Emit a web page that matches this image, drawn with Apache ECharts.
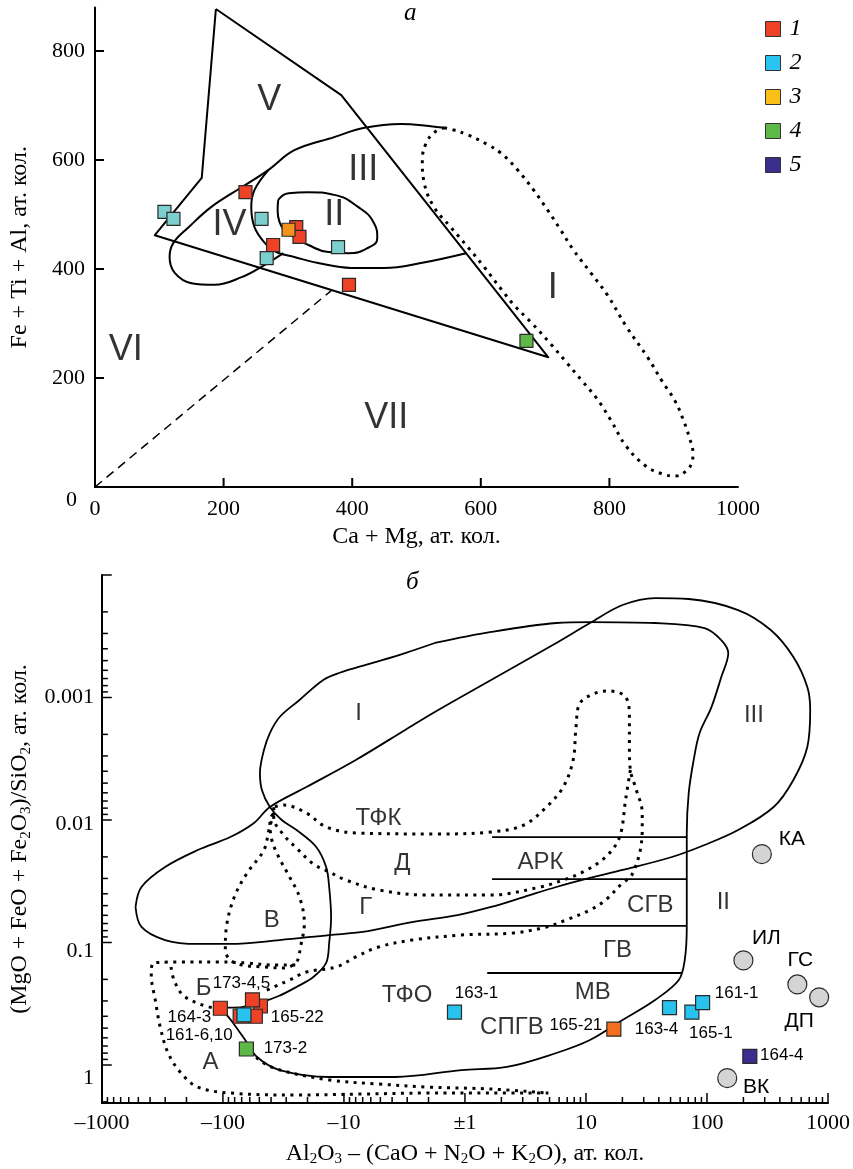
<!DOCTYPE html>
<html><head><meta charset="utf-8">
<script src="https://cdn.jsdelivr.net/npm/echarts@6/dist/echarts.min.js"></script>
<style>html,body{margin:0;padding:0;background:#fff}#c{width:853px;height:1169px}</style>
</head><body><div id="c"></div>
<script>
// ================= Chart а : Ca+Mg vs Fe+Ti+Al (at. quantities) =================
const aRed    = [[234,541],[277,444],[313,477],[318,459],[395,371]];
const aCyan   = [[108,505],[122,492],[259,492],[267,420],[378,440]];
const aOrange = [[301,472]];
const aGreen  = [[671,268]];
// field boundaries, chart а (data units)
const aOutline  = [[188,877],[383,719],[705,238],[93,462],[166,567],[188,877]];
const aDashed   = [[0,0],[367,360]];
const aCurveA   = [[293,429],[259,404],[228,385],[186,371],[150,374],[124,393],[116,422],[122,448],[146,477],[181,514],[228,550],[270,582],[310,618],[372,642],[419,659],[476,666],[522,662],[543,659]];
const aCurveB   = [[270,582],[248,545],[243,514],[248,477],[264,448],[282,431],[310,422],[347,411],[398,402],[450,402],[507,411],[577,429]];
const aEllII    = [[285,527],[301,539],[332,541],[372,536],[409,514],[434,484],[439,457],[425,439],[394,429],[363,431],[332,444],[305,462],[287,486],[284,508],[285,527]];
const aEllI     = [[543,659],[558,655],[580,646],[611,628],[631,613],[657,582],[682,545],[704,508],[724,472],[744,435],[771,393],[797,352],[826,295],[860,237],[882,194],[902,158],[915,123],[924,92],[930,62],[929,48],[919,29],[902,20],[882,24],[856,39],[826,75],[802,123],[780,163],[758,194],[733,229],[709,262],[679,301],[653,332],[633,361],[605,404],[580,440],[553,477],[527,514],[512,558],[509,600],[515,631],[527,650],[543,659]];
const aZoneLabels = [['V',271,710],['III',417,582],['II',372,499],['IV',209,481],['I',712,365],['VI',48,251],['VII',453,127]];
const aXTicks = [0,200,400,600,800,1000];
const aYTicks = [0,200,400,600,800];

// ================= Chart б : Al2O3-(CaO+Na2O+K2O) vs (MgO+FeO+Fe2O3)/SiO2 =================
// samples: [name, x (at. qty), y (ratio)]
const bRed    = [['164-3',-105,0.344],['173-5',-49,0.33],['173-4,5',-57,0.294],['161-6,10',-72,0.40],['165-22',-54,0.40]];
const bCyan   = [['',-67,0.39],['163-1',-1.22,0.37],['163-4',49,0.34],['165-1',75,0.37],['161-1',92,0.31]];
const bOrange = [['165-21',17,0.51]];
const bGreen  = [['173-2',-64,0.74]];
const bPurple = [['164-4',226,0.85]];
const bRef    = [['КА',284,0.019],['ИЛ',200,0.14],['ГС',558,0.22],['ДП',845,0.28],['ВК',147,1.28]];
const bXTickLabels = ['–1000','–100','–10','±1','10','100','1000'];
const bYTickLabels = {'-3':'0.001','-2':'0.01','-1':'0.1','0':'1'};
// field boundaries, chart б, in decade coordinates [signed log10|x|, log10 y]
const bCurveQ = [[-0.249,-3.445],[-0.494,-3.363],[-0.763,-3.282],[-1.041,-3.200],[-1.171,-3.143],[-1.367,-2.980],[-1.531,-2.841],[-1.612,-2.710],[-1.661,-2.571],[-1.694,-2.384],[-1.678,-2.245],[-1.612,-2.106],[-1.514,-2.000],[-1.392,-1.918],[-1.229,-1.780],[-1.147,-1.616],[-1.122,-1.453],[-1.106,-1.208],[-1.122,-0.996],[-1.147,-0.833],[-1.253,-0.718],[-1.392,-0.637],[-1.539,-0.563],[-1.678,-0.514],[-1.841,-0.473],[-2.012,-0.465],[-1.922,-0.351],[-1.816,-0.204],[-1.718,-0.065],[-1.531,0.041],[-1.122,0.098],[-0.576,0.098],[-0.029,0.041],[0.347,0.016],[0.755,-0.098],[1.033,-0.204],[1.302,-0.367],[1.571,-0.531],[1.767,-0.694],[1.816,-0.857],[1.833,-1.127],[1.833,-1.510],[1.833,-1.894],[1.849,-2.220],[1.890,-2.490],[1.939,-2.710],[2.037,-2.922],[2.118,-3.167],[2.176,-3.363],[2.118,-3.469],[1.980,-3.567],[1.571,-3.608],[1.033,-3.616],[0.755,-3.608],[0.216,-3.535],[-0.249,-3.445]];
const bCurveP = [[-2.722,-1.290],[-2.673,-1.453],[-2.478,-1.616],[-2.208,-1.755],[-1.939,-1.861],[-1.743,-1.976],[-1.612,-2.106],[-1.310,-2.269],[-0.902,-2.490],[-0.494,-2.735],[-0.249,-2.882],[0.216,-3.143],[0.755,-3.445],[1.033,-3.608],[1.302,-3.755],[1.571,-3.812],[1.849,-3.804],[2.257,-3.714],[2.527,-3.551],[2.714,-3.331],[2.829,-3.086],[2.853,-2.898],[2.829,-2.596],[2.714,-2.327],[2.551,-2.106],[2.257,-1.918],[1.980,-1.796],[1.710,-1.698],[1.302,-1.592],[1.033,-1.527],[0.755,-1.453],[0.486,-1.371],[0.216,-1.290],[-0.061,-1.224],[-0.437,-1.167],[-0.845,-1.086],[-1.122,-1.061],[-1.531,-1.020],[-1.939,-0.988],[-2.208,-0.988],[-2.478,-1.020],[-2.673,-1.127],[-2.722,-1.290]];
const bHLines = [[[0.224,-1.861],[1.833,-1.861]],[[0.224,-1.518],[1.833,-1.518]],[[0.184,-1.135],[1.833,-1.135]],[[0.184,-0.751],[1.792,-0.751]]];
const bDotMain = [[-1.637,-0.612],[-1.580,-0.637],[-1.449,-0.694],[-1.310,-0.759],[-1.065,-0.800],[-0.902,-0.882],[-0.714,-0.963],[-0.437,-1.020],[-0.029,-1.061],[0.404,-1.078],[0.673,-1.127],[0.837,-1.184],[1.033,-1.265],[1.163,-1.347],[1.302,-1.486],[1.367,-1.535],[1.408,-1.616],[1.449,-1.755],[1.465,-1.918],[1.465,-2.057],[1.408,-2.269],[1.367,-2.408],[1.359,-2.596],[1.359,-2.841],[1.327,-3.004],[1.196,-3.053],[1.082,-3.037],[0.951,-2.955],[0.918,-2.759],[0.894,-2.490],[0.812,-2.269],[0.673,-2.106],[0.486,-1.959],[0.216,-1.902],[-0.249,-1.886],[-0.902,-1.894],[-1.147,-1.943],[-1.310,-2.057],[-1.498,-2.122],[-1.580,-2.106]];
const bDotD = [[1.367,-2.408],[1.327,-2.163],[1.278,-1.861],[1.163,-1.698],[0.976,-1.576],[0.812,-1.510],[0.624,-1.453],[0.216,-1.388],[-0.331,-1.388],[-0.714,-1.429],[-0.984,-1.510],[-1.122,-1.576],[-1.253,-1.641],[-1.392,-1.771],[-1.498,-1.878],[-1.580,-2.016],[-1.580,-2.106]];
const bDotV = [[-1.580,-2.057],[-1.620,-1.918],[-1.661,-1.755],[-1.800,-1.567],[-1.906,-1.371],[-1.971,-1.127],[-1.980,-0.939],[-1.939,-0.857],[-1.841,-0.816],[-1.661,-0.800],[-1.498,-0.792],[-1.392,-0.841],[-1.359,-0.963],[-1.327,-1.159],[-1.367,-1.371],[-1.449,-1.535],[-1.539,-1.698],[-1.596,-1.837],[-1.612,-2.000],[-1.580,-2.057]];
const bDotAOuter = [[0.690,0.229],[0.216,0.229],[-0.306,0.229],[-0.845,0.237],[-1.392,0.245],[-1.939,0.229],[-2.208,0.180],[-2.347,0.065],[-2.453,-0.098],[-2.518,-0.310],[-2.559,-0.531],[-2.592,-0.735],[-2.576,-0.833],[-2.290,-0.841],[-2.045,-0.841],[-1.800,-0.833],[-1.596,-0.816],[-1.392,-0.816]];
const bDotAUpper = [[-1.800,-0.180],[-1.718,-0.057],[-1.555,0.033],[-1.122,0.122],[-0.714,0.155],[-0.306,0.180],[0.216,0.196],[0.690,0.229]];
const bDotB = [[-2.429,-0.800],[-2.404,-0.694],[-2.331,-0.571],[-2.192,-0.498],[-2.045,-0.457]];
const bZoneLabels = [['I',-0.878,-2.873],['III',2.388,-2.857],['ТФК',-0.714,-2.016],['Д',-0.518,-1.649],['АРК',0.624,-1.657],['Г',-0.820,-1.290],['В',-1.596,-1.184],['СГВ',1.531,-1.306],['II',2.135,-1.331],['ГВ',1.261,-0.939],['Б',-2.159,-0.629],['ТФО',-0.478,-0.571],['МВ',1.057,-0.596],['СПГВ',0.388,-0.310],['А',-2.102,-0.024]];

// ---------------- styling ----------------
const SERIF = '"Liberation Serif", "Times New Roman", serif';
const SANS = '"Liberation Sans", Arial, sans-serif';
const INK = '#000000';
// label offsets (label centre relative to marker centre), chart б
const bLabelOffset = {'164-3':[-31,9],'173-4,5':[-11,-17],'161-6,10':[-41,19],'165-22':[42,1],'173-2':[39,-1],'163-1':[22,-19],'165-21':[-38,-4],'163-4':[-13,22],'165-1':[19,21],'161-1':[34,-9],'164-4':[32,-1],'КА':[30,-15],'ИЛ':[23,-22],'ГС':[3,-24],'ДП':[-20,24],'ВК':[29,9]};
// downward nudge (px) of the y tick labels of chart б, as printed in the original
const bYLabelNudge = {'-3':0,'-2':8,'-1':18,'0':26};

const symlog = v => (Math.abs(v) <= 1 ? 0 : Math.sign(v) * Math.log10(Math.abs(v)));
const toB = (x, y) => [symlog(x), Math.log10(y)];

const A_XMAX = 1000, A_YMAX = 880, A_PX_X = 0.645, A_PX_Y = 0.545;   // px per unit (grid size / span)
const B_XMIN = -3, B_XMAX = 3, B_YMIN = -4, B_YMAX = 0.31;
const B_PX_PER_DECADE = 122.5;

function lineS(grid, data, opt) {
  opt = opt || {};
  return {
    type: 'line', xAxisIndex: grid, yAxisIndex: grid, data: data,
    symbol: 'none', showSymbol: false, silent: true, z: opt.z || 2,
    smooth: opt.smooth || false, clip: false,
    lineStyle: Object.assign({color: INK, width: 1.8, cap: 'butt', join: 'round'}, opt.style || {}),
    animation: false
  };
}
const DOTS = {type: [3, 5.5], width: 3, cap: 'butt'};

function pointS(grid, name, items, color, size, symbol, useLabels) {
  return {
    type: 'scatter', name: name, xAxisIndex: grid, yAxisIndex: grid, z: 5,
    symbol: symbol || 'rect', symbolSize: size,
    itemStyle: {color: color, borderColor: '#2a2a2a', borderWidth: 1.2, opacity: 1},
    data: items.map(it => {
      const d = {name: it.name, value: it.value};
      const off = useLabels && bLabelOffset[it.name];
      if (off) {
        d.label = {show: true, position: 'inside', offset: off, formatter: '{b}',
          fontFamily: SANS, fontSize: (symbol === 'circle' ? 21 : 17), color: INK};
      }
      return d;
    }),
    label: {show: false},
    emphasis: {disabled: true},
    animation: false
  };
}
function zoneLabelS(grid, list, size) {
  return {
    type: 'scatter', xAxisIndex: grid, yAxisIndex: grid, z: 6, silent: true,
    symbol: 'circle', symbolSize: 1, itemStyle: {color: 'rgba(0,0,0,0)'},
    data: list.map(l => ({name: l[0], value: [l[1], l[2]]})),
    label: {show: true, position: 'inside', formatter: '{b}', fontFamily: SANS,
      fontSize: size, color: INK},
    animation: false
  };
}

// ---------------- tick marks (segments in axis units) ----------------
const aTickSegs = [];
aXTicks.forEach(v => { if (v > 0 && v < A_XMAX) aTickSegs.push([[v, 0], [v, 9 / A_PX_Y]]); });
aYTicks.forEach(v => { if (v > 0) aTickSegs.push([[0, v], [9 / A_PX_X, v]]); });

const MAJ = 10 / B_PX_PER_DECADE, MIN = 6 / B_PX_PER_DECADE;
const bTickSegs = [];
function addXTick(p, major) {
  const l = major ? MAJ : MIN;
  bTickSegs.push([[p, B_YMAX], [p, B_YMAX - l]]);
}
for (let d = 0; d < 3; d++) for (let m = 1; m <= 9; m++) {
  const p = d + Math.log10(m);
  addXTick(p, m === 1);
  if (p > 0) addXTick(-p, m === 1);
}
addXTick(3, true); addXTick(-3, true);
for (let d = -4; d <= 0; d++) for (let m = 1; m <= 9; m++) {
  const p = d + Math.log10(m);
  if (p <= B_YMAX) {
    const l = m === 1 ? MAJ : MIN;
    bTickSegs.push([[B_XMIN, p], [B_XMIN + l, p]]);
  }
}

const series = [];
// ---- chart а ----
series.push(lineS(0, aOutline, {style: {width: 2}}));
series.push(lineS(0, aDashed, {style: {width: 1.5, type: [9, 6]}}));
series.push(lineS(0, aCurveA, {smooth: 0.4, style: {width: 2}}));
series.push(lineS(0, aCurveB, {smooth: 0.4, style: {width: 2}}));
series.push(lineS(0, aEllII, {smooth: 0.5, style: {width: 2}}));
series.push(lineS(0, aEllI, {smooth: 0.4, style: DOTS}));
const mk = arr => arr.map(p => ({name: '', value: p}));
series.push(pointS(0, '1', mk(aRed), '#ee4226', 13));
series.push(pointS(0, '2', mk(aCyan), '#7dcfcd', 13));
series.push(pointS(0, '3', mk(aOrange), '#f5921e', 13));
series.push(pointS(0, '4', mk(aGreen), '#5db847', 13));
series.push(zoneLabelS(0, aZoneLabels, 36));
aTickSegs.forEach(seg => series.push(lineS(0, seg, {z: 7, style: {width: 2}})));
// ---- chart б ----
series.push(lineS(1, bCurveP, {smooth: 0.35}));
series.push(lineS(1, bCurveQ, {smooth: 0.35}));
bHLines.forEach(l => series.push(lineS(1, l)));
[bDotMain, bDotD, bDotV, bDotAOuter, bDotAUpper, bDotB].forEach(l => series.push(lineS(1, l, {smooth: 0.35, style: DOTS})));
const mkB = arr => arr.map(r => ({name: r[0], value: toB(r[1], r[2])}));
series.push(pointS(1, 'ref', mkB(bRef), '#d4d4d4', 19, 'circle', true));
series.push(pointS(1, '1', mkB(bRed), '#ee4226', 14, 'rect', true));
series.push(pointS(1, '2', mkB(bCyan), '#27c3ee', 14, 'rect', true));
series.push(pointS(1, '3', mkB(bOrange), '#f26f21', 14, 'rect', true));
series.push(pointS(1, '4', mkB(bGreen), '#5cb847', 14, 'rect', true));
series.push(pointS(1, '5', mkB(bPurple), '#3a2d8f', 14, 'rect', true));
series.push(zoneLabelS(1, bZoneLabels, 24));
bTickSegs.forEach(seg => series.push(lineS(1, seg, {z: 7, style: {width: 1.5}})));

const axisLineStyle = {show: true, onZero: false, lineStyle: {color: INK, width: 2}};
const option = {
  backgroundColor: '#ffffff',
  animation: false,
  title: [
    {text: 'а', left: 404, top: 1, padding: 0, textStyle: {fontFamily: SERIF, fontStyle: 'italic', fontWeight: 'normal', fontSize: 25, color: INK}},
    {text: 'б', left: 406, top: 570, padding: 0, textStyle: {fontFamily: SERIF, fontStyle: 'italic', fontWeight: 'normal', fontSize: 25, color: INK}}
  ],
  legend: {
    orient: 'vertical', left: 760, top: 12, itemWidth: 15, itemHeight: 15, itemGap: 10,
    icon: 'rect', selectedMode: false,
    data: [{name: '1', itemStyle: {color: '#ee4226'}}, {name: '2', itemStyle: {color: '#29c4ef'}},
           {name: '3', itemStyle: {color: '#fcbf17'}}, {name: '4', itemStyle: {color: '#5db847'}},
           {name: '5', itemStyle: {color: '#3a2e8e'}}],
    itemStyle: {borderColor: '#333', borderWidth: 1},
    textStyle: {fontFamily: SERIF, fontStyle: 'italic', fontSize: 24, color: INK, padding: [0, 0, 0, 4]}
  },
  grid: [
    {left: 93, right: 853 - 93 - A_XMAX * A_PX_X, top: 487 - A_YMAX * A_PX_Y, height: A_YMAX * A_PX_Y, containLabel: false},
    {left: 93, right: 25, top: 1065 + B_YMIN * B_PX_PER_DECADE, height: (B_YMAX - B_YMIN) * B_PX_PER_DECADE, containLabel: false}
  ],
  xAxis: [
    {gridIndex: 0, type: 'value', min: 0, max: A_XMAX, interval: 200,
     axisLine: axisLineStyle, axisTick: {show: false},
     axisLabel: {fontFamily: SERIF, fontSize: 22, color: INK, margin: 11,
       formatter: v => (aXTicks.indexOf(v) >= 0 ? String(v) : '')},
     splitLine: {show: false},
     name: 'Ca + Mg, ат. кол.', nameLocation: 'middle', nameGap: 38,
     nameTextStyle: {fontFamily: SERIF, fontSize: 24, color: INK}},
    {gridIndex: 1, type: 'value', min: B_XMIN, max: B_XMAX, interval: 1,
     axisLine: axisLineStyle, axisTick: {show: false},
     axisLabel: {fontFamily: SERIF, fontSize: 22, color: INK, margin: 9,
       formatter: v => bXTickLabels[Math.round(v) + 3] || ''},
     splitLine: {show: false},
     name: 'Al{s|2}O{s|3} – (CaO + N{s|2}O + K{s|2}O), ат. кол.', nameLocation: 'middle', nameGap: 37,
     nameTextStyle: {fontFamily: SERIF, fontSize: 24, color: INK,
       rich: {s: {fontFamily: SERIF, fontSize: 15, color: INK, padding: [12, 0, 0, 0]}}}}
  ],
  yAxis: [
    {gridIndex: 0, type: 'value', min: 0, max: A_YMAX, interval: 200,
     axisLine: axisLineStyle, axisTick: {show: false},
     axisLabel: {fontFamily: SERIF, fontSize: 22, color: INK, margin: 10,
       formatter: v => (v === 0 ? '{z|0}' : (aYTicks.indexOf(v) >= 0 ? String(v) : '')),
       rich: {z: {fontFamily: SERIF, fontSize: 22, color: INK, padding: [26, 8, 0, 0]}}},
     splitLine: {show: false},
     name: 'Fe + Ti + Al, ат. кол.', nameLocation: 'middle', nameGap: 63, nameRotate: 90,
     nameTextStyle: {fontFamily: SERIF, fontSize: 24, color: INK}},
    {gridIndex: 1, type: 'value', min: B_YMIN, max: B_YMAX, interval: 1, inverse: true,
     axisLine: axisLineStyle, axisTick: {show: false},
     axisLabel: {fontFamily: SERIF, fontSize: 22, color: INK, margin: 8,
       formatter: v => {
         const k = String(Math.round(v));
         if (Math.abs(v - Math.round(v)) > 1e-6 || !bYTickLabels[k]) return '';
         return bYLabelNudge[k] ? '{n' + bYLabelNudge[k] + '|' + bYTickLabels[k] + '}' : bYTickLabels[k];
       },
       rich: {
         n8:  {fontFamily: SERIF, fontSize: 22, color: INK, padding: [8, 0, 0, 0]},
         n18: {fontFamily: SERIF, fontSize: 22, color: INK, padding: [18, 0, 0, 0]},
         n26: {fontFamily: SERIF, fontSize: 22, color: INK, padding: [26, 0, 0, 0]}
       }},
     splitLine: {show: false},
     name: '(MgO + FeO + Fe{s|2}O{s|3})/SiO{s|2}, ат. кол.', nameLocation: 'middle', nameGap: 61, nameRotate: 90,
     nameTextStyle: {fontFamily: SERIF, fontSize: 24, color: INK,
       rich: {s: {fontFamily: SERIF, fontSize: 15, color: INK, padding: [12, 0, 0, 0]}}}}
  ],
  series: series
};
const chart = echarts.init(document.getElementById('c'), null, {renderer: 'canvas'});
chart.setOption(option);
</script>
</body></html>
